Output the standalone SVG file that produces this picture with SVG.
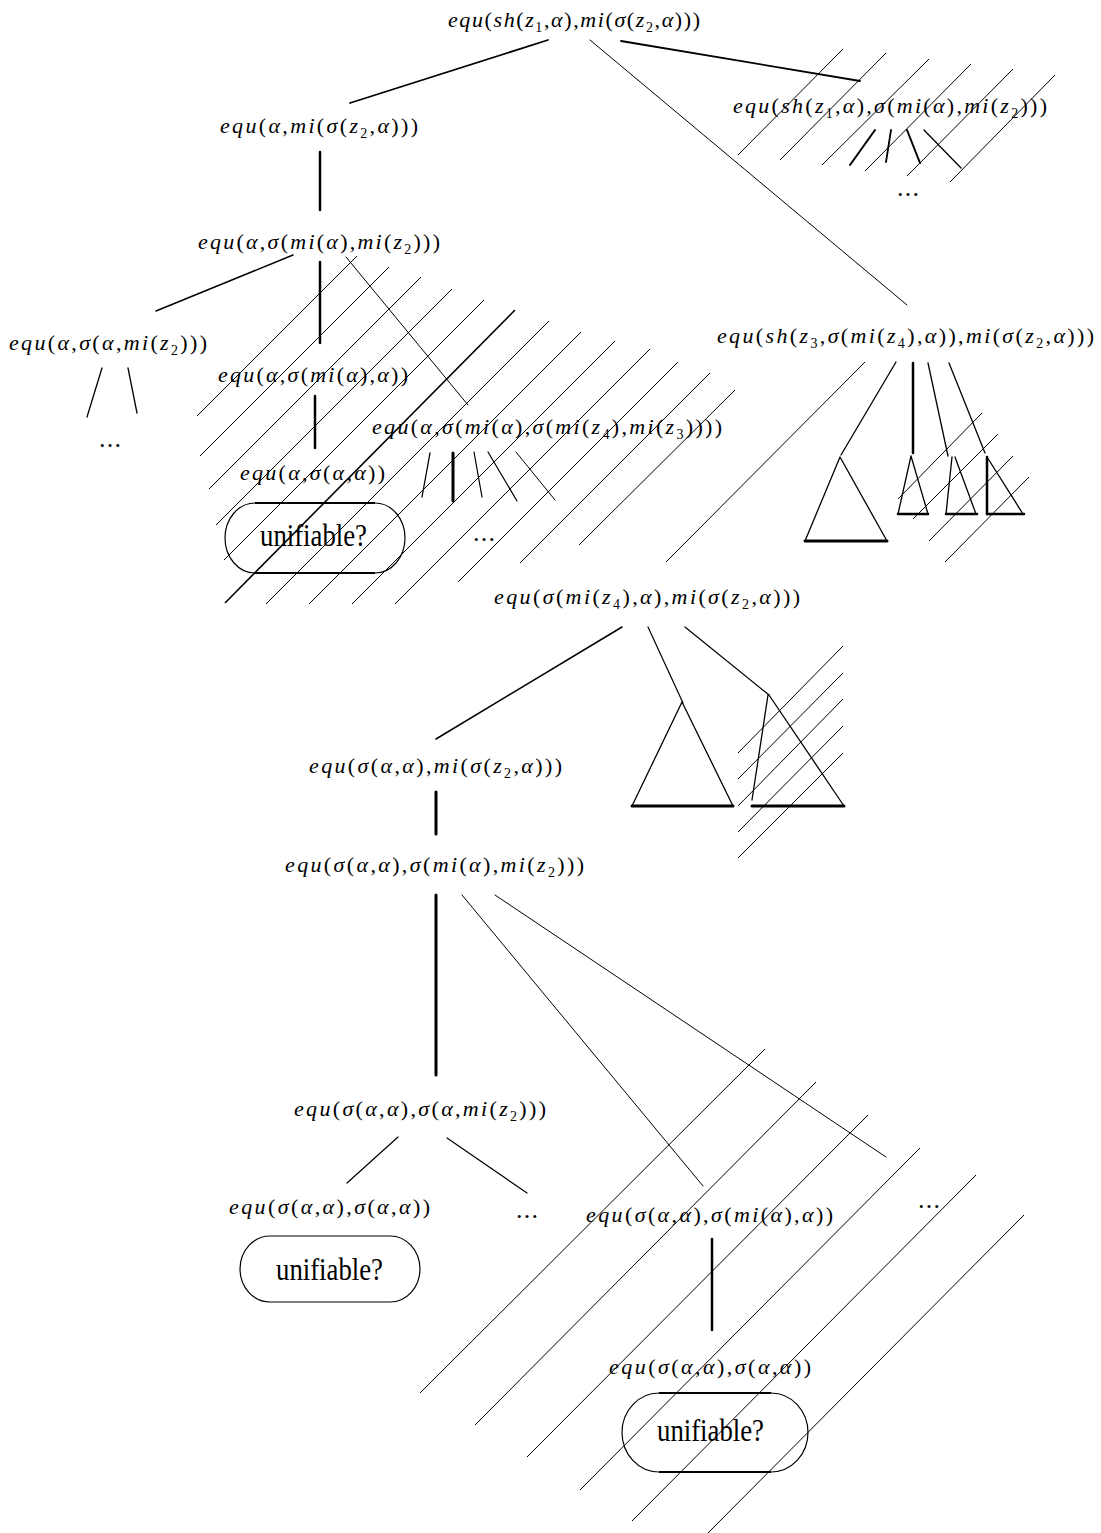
<svg xmlns="http://www.w3.org/2000/svg" width="1101" height="1533" viewBox="0 0 1101 1533">
<style>
.m{font-family:"Liberation Serif","DejaVu Serif",serif;font-style:italic;font-size:22px;fill:#000}
.u{font-style:normal}
.s{font-style:normal;font-size:14px;baseline-shift:-5px}
.r{font-family:"Liberation Serif","DejaVu Serif",serif;font-size:32px;fill:#000}
.d{font-family:"Liberation Serif",serif;font-size:26px;fill:#000}
.c line,.c path{stroke:#000;fill:none;stroke-linecap:round}
.h line{stroke:#000;stroke-width:1;fill:none}
.box{stroke:#000;stroke-width:1.2;fill:none}
.bx{stroke:#000;stroke-width:2.2;fill:none}
</style>
<rect width="1101" height="1533" fill="#fff"/>

<g id="n1"><text class="m" x="448" y="27" textLength="252" lengthAdjust="spacing">equ<tspan class="u">(</tspan>sh<tspan class="u">(</tspan>z<tspan class="s">1</tspan><tspan class="u">,</tspan>α<tspan class="u">),</tspan>mi<tspan class="u">(</tspan>σ<tspan class="u">(</tspan>z<tspan class="s">2</tspan><tspan class="u">,</tspan>α<tspan class="u">)))</tspan></text></g>
<g id="n2"><text class="m" x="733" y="113" textLength="314" lengthAdjust="spacing">equ<tspan class="u">(</tspan>sh<tspan class="u">(</tspan>z<tspan class="s">1</tspan><tspan class="u">,</tspan>α<tspan class="u">),</tspan>σ<tspan class="u">(</tspan>mi<tspan class="u">(</tspan>α<tspan class="u">),</tspan>mi<tspan class="u">(</tspan>z<tspan class="s">2</tspan><tspan class="u">)))</tspan></text></g>
<g id="n3"><text class="m" x="220" y="133" textLength="198" lengthAdjust="spacing">equ<tspan class="u">(</tspan>α<tspan class="u">,</tspan>mi<tspan class="u">(</tspan>σ<tspan class="u">(</tspan>z<tspan class="s">2</tspan><tspan class="u">,</tspan>α<tspan class="u">)))</tspan></text></g>
<g id="n4"><text class="m" x="198" y="249" textLength="242" lengthAdjust="spacing">equ<tspan class="u">(</tspan>α<tspan class="u">,</tspan>σ<tspan class="u">(</tspan>mi<tspan class="u">(</tspan>α<tspan class="u">),</tspan>mi<tspan class="u">(</tspan>z<tspan class="s">2</tspan><tspan class="u">)))</tspan></text></g>
<g id="n5"><text class="m" x="9" y="350" textLength="198" lengthAdjust="spacing">equ<tspan class="u">(</tspan>α<tspan class="u">,</tspan>σ<tspan class="u">(</tspan>α<tspan class="u">,</tspan>mi<tspan class="u">(</tspan>z<tspan class="s">2</tspan><tspan class="u">)))</tspan></text></g>
<g id="n6"><text class="m" x="717" y="343" textLength="377" lengthAdjust="spacing">equ<tspan class="u">(</tspan>sh<tspan class="u">(</tspan>z<tspan class="s">3</tspan><tspan class="u">,</tspan>σ<tspan class="u">(</tspan>mi<tspan class="u">(</tspan>z<tspan class="s">4</tspan><tspan class="u">),</tspan>α<tspan class="u">)),</tspan>mi<tspan class="u">(</tspan>σ<tspan class="u">(</tspan>z<tspan class="s">2</tspan><tspan class="u">,</tspan>α<tspan class="u">)))</tspan></text></g>
<g id="n7"><text class="m" x="218" y="382" textLength="190" lengthAdjust="spacing">equ<tspan class="u">(</tspan>α<tspan class="u">,</tspan>σ<tspan class="u">(</tspan>mi<tspan class="u">(</tspan>α<tspan class="u">),</tspan>α<tspan class="u">))</tspan></text></g>
<g id="n8"><text class="m" x="372" y="434" textLength="350" lengthAdjust="spacing">equ<tspan class="u">(</tspan>α<tspan class="u">,</tspan>σ<tspan class="u">(</tspan>mi<tspan class="u">(</tspan>α<tspan class="u">),</tspan>σ<tspan class="u">(</tspan>mi<tspan class="u">(</tspan>z<tspan class="s">4</tspan><tspan class="u">),</tspan>mi<tspan class="u">(</tspan>z<tspan class="s">3</tspan><tspan class="u">))))</tspan></text></g>
<g id="n9"><text class="m" x="240" y="480" textLength="145" lengthAdjust="spacing">equ<tspan class="u">(</tspan>α<tspan class="u">,</tspan>σ<tspan class="u">(</tspan>α<tspan class="u">,</tspan>α<tspan class="u">))</tspan></text></g>
<g id="u1"><path class="box" d="M255,503 H375 A30,35 0 0 1 375,573 H255 A30,35 0 0 1 255,503 Z"/><path class="bx" d="M255,503 H375 M255,573 H375"/><text class="r" x="260" y="546" textLength="107" lengthAdjust="spacingAndGlyphs">unifiable?</text></g>
<g id="e1"><text class="d" x="99" y="447" textLength="22" lengthAdjust="spacing">...</text></g>
<g id="e2"><text class="d" x="473" y="541" textLength="22" lengthAdjust="spacing">...</text></g>
<g id="e3"><text class="d" x="897" y="196" textLength="22" lengthAdjust="spacing">...</text></g>
<g id="n12"><text class="m" x="494" y="604" textLength="306" lengthAdjust="spacing">equ<tspan class="u">(</tspan>σ<tspan class="u">(</tspan>mi<tspan class="u">(</tspan>z<tspan class="s">4</tspan><tspan class="u">),</tspan>α<tspan class="u">),</tspan>mi<tspan class="u">(</tspan>σ<tspan class="u">(</tspan>z<tspan class="s">2</tspan><tspan class="u">,</tspan>α<tspan class="u">)))</tspan></text></g>
<g id="n13"><text class="m" x="309" y="773" textLength="253" lengthAdjust="spacing">equ<tspan class="u">(</tspan>σ<tspan class="u">(</tspan>α<tspan class="u">,</tspan>α<tspan class="u">),</tspan>mi<tspan class="u">(</tspan>σ<tspan class="u">(</tspan>z<tspan class="s">2</tspan><tspan class="u">,</tspan>α<tspan class="u">)))</tspan></text></g>
<g id="n14"><text class="m" x="285" y="872" textLength="299" lengthAdjust="spacing">equ<tspan class="u">(</tspan>σ<tspan class="u">(</tspan>α<tspan class="u">,</tspan>α<tspan class="u">),</tspan>σ<tspan class="u">(</tspan>mi<tspan class="u">(</tspan>α<tspan class="u">),</tspan>mi<tspan class="u">(</tspan>z<tspan class="s">2</tspan><tspan class="u">)))</tspan></text></g>
<g id="n15"><text class="m" x="294" y="1116" textLength="252" lengthAdjust="spacing">equ<tspan class="u">(</tspan>σ<tspan class="u">(</tspan>α<tspan class="u">,</tspan>α<tspan class="u">),</tspan>σ<tspan class="u">(</tspan>α<tspan class="u">,</tspan>mi<tspan class="u">(</tspan>z<tspan class="s">2</tspan><tspan class="u">)))</tspan></text></g>
<g id="n16"><text class="m" x="229" y="1214" textLength="201" lengthAdjust="spacing">equ<tspan class="u">(</tspan>σ<tspan class="u">(</tspan>α<tspan class="u">,</tspan>α<tspan class="u">),</tspan>σ<tspan class="u">(</tspan>α<tspan class="u">,</tspan>α<tspan class="u">))</tspan></text></g>
<g id="u2"><path class="box" d="M270,1236 H390 A30,33 0 0 1 390,1302 H270 A30,33 0 0 1 270,1236 Z"/><text class="r" x="276" y="1280" textLength="107" lengthAdjust="spacingAndGlyphs">unifiable?</text></g>
<g id="e4"><text class="d" x="516" y="1218" textLength="22" lengthAdjust="spacing">...</text></g>
<g id="e5"><text class="d" x="918" y="1208" textLength="22" lengthAdjust="spacing">...</text></g>
<g id="n19"><text class="m" x="586" y="1222" textLength="247" lengthAdjust="spacing">equ<tspan class="u">(</tspan>σ<tspan class="u">(</tspan>α<tspan class="u">,</tspan>α<tspan class="u">),</tspan>σ<tspan class="u">(</tspan>mi<tspan class="u">(</tspan>α<tspan class="u">),</tspan>α<tspan class="u">))</tspan></text></g>
<g id="n20"><text class="m" x="609" y="1374" textLength="202" lengthAdjust="spacing">equ<tspan class="u">(</tspan>σ<tspan class="u">(</tspan>α<tspan class="u">,</tspan>α<tspan class="u">),</tspan>σ<tspan class="u">(</tspan>α<tspan class="u">,</tspan>α<tspan class="u">))</tspan></text></g>
<g id="u3"><path class="box" d="M659,1393 H771 A37,39.5 0 0 1 771,1472 H659 A37,39.5 0 0 1 659,1393 Z"/><path class="bx" d="M659,1393 H771 M659,1472 H771"/><text class="r" x="657" y="1441" textLength="107" lengthAdjust="spacingAndGlyphs">unifiable?</text></g>

<g id="trees" class="c">
<path stroke-width="1.3" d="M840,457 L805,541 M840,457 L887,541"/><line x1="805" y1="541" x2="887" y2="541" stroke-width="3"/>
<path stroke-width="1.3" d="M911,456 L898,514 M911,456 L928,514"/><line x1="898" y1="514" x2="928" y2="514" stroke-width="2.5"/>
<path stroke-width="1.3" d="M952,457 L946,514 M955,457 L976,514"/><line x1="946" y1="514" x2="977" y2="514" stroke-width="2.5"/>
<path stroke-width="1.3" d="M987,457 L1023,514"/><line x1="987" y1="457" x2="987" y2="514" stroke-width="2.5"/><line x1="987" y1="514" x2="1024" y2="514" stroke-width="2.5"/>
<path stroke-width="1.3" d="M682,702 L632,806 M682,702 L733,806"/><line x1="632" y1="806" x2="733" y2="806" stroke-width="3"/>
<path stroke-width="1.3" d="M768,695 L752,800 M769,695 L844,806"/><line x1="752" y1="806" x2="844" y2="806" stroke-width="3"/>
</g>

<g id="connectors" class="c">
<line x1="548" y1="40" x2="350" y2="103" stroke-width="1.8"/>
<line x1="590" y1="40" x2="907" y2="305" stroke-width="1"/>
<line x1="621" y1="41" x2="860" y2="81" stroke-width="1.8"/>
<line x1="850" y1="165" x2="875" y2="130" stroke-width="2"/>
<line x1="886" y1="162" x2="891" y2="130" stroke-width="1.8"/>
<line x1="907" y1="130" x2="920" y2="163" stroke-width="2"/>
<line x1="924" y1="130" x2="961" y2="168" stroke-width="1.3"/>
<line x1="320" y1="152" x2="320" y2="210" stroke-width="2.5"/>
<line x1="293" y1="255" x2="156" y2="311" stroke-width="1.5"/>
<line x1="320" y1="262" x2="320" y2="343" stroke-width="2.5"/>
<line x1="346" y1="257" x2="468" y2="405" stroke-width="1"/>
<line x1="102" y1="368" x2="87" y2="417" stroke-width="1.3"/>
<line x1="128" y1="368" x2="137" y2="413" stroke-width="1.3"/>
<line x1="315" y1="396" x2="315" y2="448" stroke-width="2.5"/>
<line x1="430" y1="453" x2="422" y2="497" stroke-width="1.3"/>
<line x1="453" y1="453" x2="453" y2="501" stroke-width="3"/>
<line x1="474" y1="452" x2="482" y2="497" stroke-width="1.2"/>
<line x1="488" y1="452" x2="517" y2="501" stroke-width="1.2"/>
<line x1="516" y1="452" x2="555" y2="500" stroke-width="1"/>
<line x1="896" y1="362" x2="841" y2="455" stroke-width="1.3"/>
<line x1="913" y1="363" x2="913" y2="453" stroke-width="2.5"/>
<line x1="928" y1="363" x2="948" y2="456" stroke-width="1.3"/>
<line x1="949" y1="363" x2="985" y2="453" stroke-width="1.3"/>
<line x1="622" y1="627" x2="436" y2="739" stroke-width="1.5"/>
<line x1="648" y1="627" x2="683" y2="703" stroke-width="1.2"/>
<line x1="685" y1="627" x2="769" y2="695" stroke-width="1.2"/>
<line x1="436" y1="792" x2="436" y2="834" stroke-width="3"/>
<line x1="436" y1="895" x2="436" y2="1075" stroke-width="3"/>
<line x1="462" y1="895" x2="703" y2="1186" stroke-width="1"/>
<line x1="495" y1="895" x2="886" y2="1157" stroke-width="1"/>
<line x1="398" y1="1137" x2="347" y2="1183" stroke-width="1.2"/>
<line x1="447" y1="1138" x2="527" y2="1193" stroke-width="1.2"/>
<line x1="712" y1="1239" x2="712" y2="1330" stroke-width="2.5"/>
</g>

<g id="hatching" class="h">
<line x1="738" y1="155" x2="843" y2="49"/>
<line x1="780" y1="160" x2="886" y2="53"/>
<line x1="822" y1="165" x2="929" y2="59"/>
<line x1="865" y1="171" x2="971" y2="64"/>
<line x1="907" y1="176" x2="1013" y2="69"/>
<line x1="950" y1="182" x2="1055" y2="75"/>
<line x1="197" y1="416" x2="357" y2="256"/>
<line x1="200" y1="456" x2="389" y2="267"/>
<line x1="209" y1="489" x2="421" y2="277"/>
<line x1="216" y1="525" x2="452" y2="289"/>
<line x1="224" y1="560" x2="484" y2="300"/>
<line x1="225" y1="603" x2="515" y2="310" style="stroke-width:1.6"/>
<line x1="266" y1="604" x2="549" y2="321"/>
<line x1="309" y1="604" x2="581" y2="332"/>
<line x1="352" y1="604" x2="615" y2="341"/>
<line x1="395" y1="604" x2="650" y2="349"/>
<line x1="458" y1="582" x2="678" y2="362"/>
<line x1="520" y1="563" x2="710" y2="373"/>
<line x1="579" y1="545" x2="735" y2="390"/>
<line x1="666" y1="562" x2="865" y2="362"/>
<line x1="898" y1="499" x2="982" y2="413"/>
<line x1="913" y1="519" x2="998" y2="434"/>
<line x1="929" y1="541" x2="1013" y2="456"/>
<line x1="945" y1="562" x2="1029" y2="477"/>
<line x1="738" y1="753" x2="843" y2="646"/>
<line x1="738" y1="779" x2="843" y2="673"/>
<line x1="738" y1="806" x2="843" y2="699"/>
<line x1="738" y1="832" x2="843" y2="726"/>
<line x1="738" y1="858" x2="843" y2="753"/>
<line x1="420" y1="1393" x2="765" y2="1049"/>
<line x1="475" y1="1425" x2="816" y2="1082"/>
<line x1="527" y1="1457" x2="868" y2="1115"/>
<line x1="580" y1="1490" x2="920" y2="1148"/>
<line x1="632" y1="1521" x2="976" y2="1175"/>
<line x1="708" y1="1533" x2="1024" y2="1215"/>
</g>
</svg>
